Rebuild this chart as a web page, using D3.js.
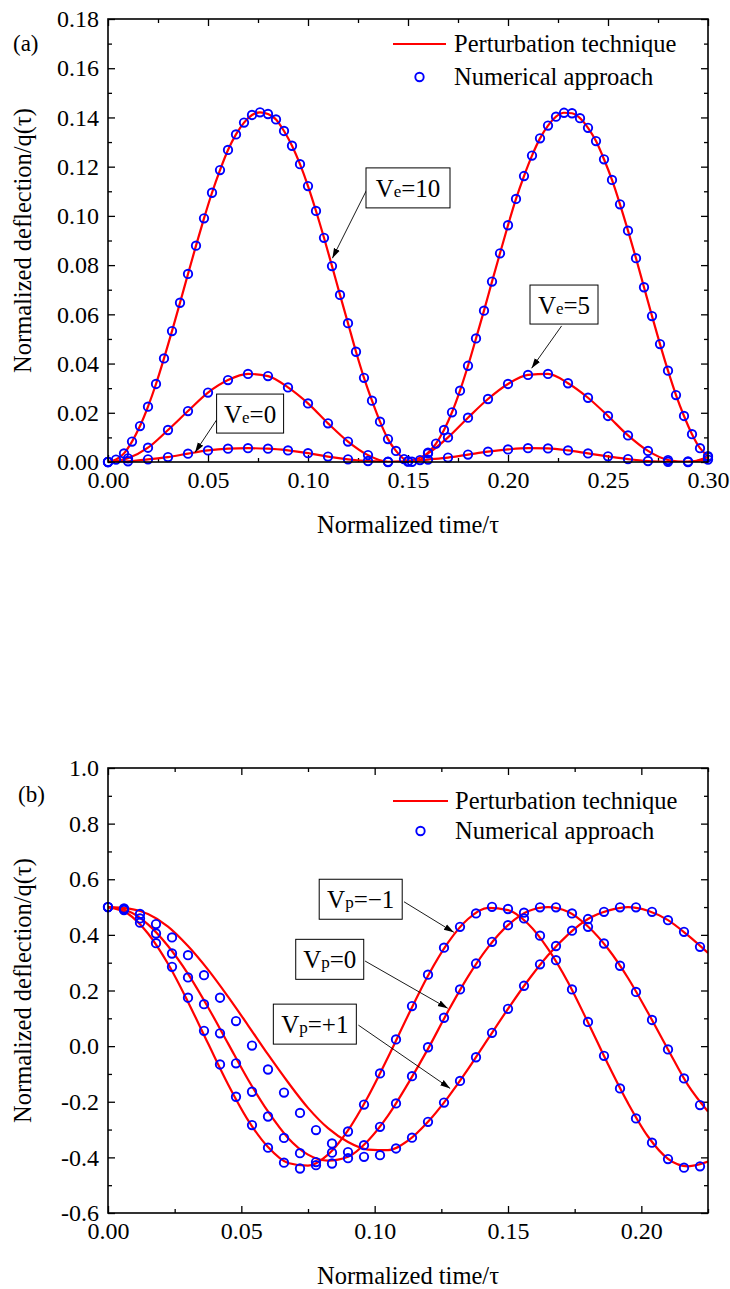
<!DOCTYPE html>
<html><head><meta charset="utf-8">
<script src="https://cdn.jsdelivr.net/npm/d3@7"></script>
<style>
body{margin:0;background:#fff;}
svg text{font-family:"Liberation Serif","Times New Roman",serif !important;fill:#000;}
</style>
</head><body>
<svg id="c" width="730" height="1289"></svg>
<script>
// ---------------- DATA : panel (a) ----------------
const timeA10 = [0,0.004,0.008,0.012,0.016,0.020,0.024,0.028,0.032,0.036,0.040,0.044,0.048,0.052,0.056,0.060,0.064,0.068,0.072,0.076,0.080,0.084,0.088,0.092,0.096,0.100,0.104,0.108,0.112,0.116,0.120,0.124,0.128,0.132,0.136,0.140,0.144,0.148,0.152,0.156,0.160,0.164,0.168,0.172,0.176,0.180,0.184,0.188,0.192,0.196,0.200,0.204,0.208,0.212,0.216,0.220,0.224,0.228,0.232,0.236,0.240,0.244,0.248,0.252,0.256,0.260,0.264,0.268,0.272,0.276,0.280,0.284,0.288,0.292,0.296,0.300];
const ve10 = [0.0000,0.0010,0.0035,0.0083,0.0146,0.0225,0.0317,0.0421,0.0532,0.0647,0.0764,0.0879,0.0990,0.1094,0.1186,0.1268,0.1331,0.1379,0.1410,0.1421,0.1414,0.1392,0.1345,0.1285,0.1210,0.1121,0.1020,0.0911,0.0796,0.0679,0.0564,0.0448,0.0342,0.0249,0.0164,0.0093,0.0045,0.0012,0.0001,0.0008,0.0038,0.0075,0.0130,0.0202,0.0290,0.0391,0.0502,0.0615,0.0733,0.0848,0.0962,0.1069,0.1162,0.1245,0.1315,0.1367,0.1403,0.1419,0.1417,0.1397,0.1358,0.1304,0.1230,0.1146,0.1047,0.0940,0.0828,0.0710,0.0593,0.0479,0.0371,0.0272,0.0187,0.0113,0.0056,0.0024];
const timeA = [0,0.01,0.02,0.03,0.04,0.05,0.06,0.07,0.08,0.09,0.10,0.11,0.12,0.13,0.14,0.15,0.16,0.17,0.18,0.19,0.20,0.21,0.22,0.23,0.24,0.25,0.26,0.27,0.28,0.29,0.30];
const ve5 = [0,0.0015,0.0058,0.0130,0.0207,0.0282,0.0333,0.0358,0.0349,0.0303,0.0238,0.0157,0.0083,0.0028,0.0001,0.0003,0.0035,0.0100,0.0180,0.0256,0.0317,0.0354,0.0358,0.0320,0.0261,0.0187,0.0108,0.0045,0.0008,0.0000,0.0020];
const ve0 = [0,0.0003,0.0011,0.0020,0.0034,0.0047,0.0054,0.0056,0.0054,0.0047,0.0036,0.0022,0.0011,0.0004,0.0000,0.0002,0.0010,0.0018,0.0030,0.0042,0.0051,0.0056,0.0055,0.0047,0.0035,0.0023,0.0012,0.0004,0.0001,0.0002,0.0010];
const xTicksA = [0,0.05,0.10,0.15,0.20,0.25,0.30];
const xMinorA = [0.025,0.075,0.125,0.175,0.225,0.275];
const yTicksA = [0,0.02,0.04,0.06,0.08,0.10,0.12,0.14,0.16,0.18];
const yMinorA = [0.01,0.03,0.05,0.07,0.09,0.11,0.13,0.15,0.17];

// ---------------- DATA : panel (b) ----------------
const lineTimeB = [0,0.0075,0.015,0.0225,0.030,0.0375,0.045,0.0525,0.060,0.0675,0.075,0.0825,0.090,0.0975,0.105,0.1125,0.120,0.1275,0.135,0.1425,0.150,0.1575,0.165,0.1725,0.180,0.1875,0.195,0.2025,0.210,0.2175,0.225];
const lineVpM1 = [0.5,0.476,0.405,0.296,0.159,0.010,-0.137,-0.266,-0.363,-0.420,-0.430,-0.390,-0.303,-0.182,-0.040,0.110,0.253,0.372,0.457,0.497,0.489,0.440,0.350,0.230,0.085,-0.065,-0.205,-0.325,-0.405,-0.432,-0.415];
const lineVp0 = [0.5,0.486,0.438,0.36,0.26,0.14,0.01,-0.12,-0.235,-0.33,-0.39,-0.412,-0.398,-0.34,-0.25,-0.135,-0.01,0.125,0.25,0.355,0.435,0.485,0.5,0.483,0.43,0.35,0.245,0.12,-0.012,-0.14,-0.235];
const lineVpP1 = [0.5,0.495,0.475,0.43,0.36,0.275,0.178,0.075,-0.03,-0.13,-0.222,-0.295,-0.345,-0.372,-0.374,-0.34,-0.272,-0.184,-0.083,0.026,0.134,0.236,0.327,0.401,0.457,0.487,0.5,0.487,0.453,0.398,0.335];
const pointTimeB = [0,0.006,0.012,0.018,0.024,0.030,0.036,0.042,0.048,0.054,0.060,0.066,0.072,0.078,0.084,0.090,0.096,0.102,0.108,0.114,0.120,0.126,0.132,0.138,0.144,0.150,0.156,0.162,0.168,0.174,0.180,0.186,0.192,0.198,0.204,0.210,0.216,0.222];
const numVpM1 = [0.5,0.489,0.444,0.37,0.285,0.174,0.055,-0.066,-0.182,-0.284,-0.365,-0.419,-0.440,-0.428,-0.383,-0.307,-0.210,-0.098,0.024,0.144,0.257,0.354,0.429,0.477,0.501,0.493,0.459,0.397,0.309,0.204,0.087,-0.035,-0.152,-0.260,-0.347,-0.406,-0.437,-0.432];
const numVp0 = [0.5,0.492,0.459,0.405,0.333,0.247,0.151,0.046,-0.062,-0.164,-0.253,-0.330,-0.385,-0.417,-0.422,-0.403,-0.356,-0.290,-0.206,-0.108,-0.004,0.102,0.204,0.297,0.375,0.435,0.480,0.499,0.499,0.477,0.429,0.369,0.289,0.195,0.094,-0.012,-0.116,-0.212];
const numVpP1 = [0.5,0.495,0.475,0.439,0.391,0.327,0.255,0.174,0.090,0.002,-0.084,-0.167,-0.240,-0.302,-0.350,-0.381,-0.398,-0.392,-0.368,-0.329,-0.272,-0.203,-0.125,-0.040,0.048,0.134,0.217,0.294,0.360,0.415,0.457,0.483,0.499,0.499,0.483,0.453,0.411,0.357];
const xTicksB = [0,0.05,0.10,0.15,0.20];
const xMinorB = [0.025,0.075,0.125,0.175,0.225];
const yTicksB = [-0.6,-0.4,-0.2,0.0,0.2,0.4,0.6,0.8,1.0];
const yMinorB = [-0.5,-0.3,-0.1,0.1,0.3,0.5,0.7,0.9];

// annotations (data units)
const annotA = [
  {main:"V", sub:"e", rest:"=10", bx:0.129, by:0.1195, bw:84, bh:40, sx:0.1293, sy:0.1105, tx:0.1122, ty:0.0828},
  {main:"V", sub:"e", rest:"=5", bx:0.211, by:0.0719, bw:68, bh:39, sx:0.2268, sy:0.0553, tx:0.2118, ty:0.0381},
  {main:"V", sub:"e", rest:"=0", bx:0.0543, by:0.0276, bw:67, bh:39, sx:0.0543, sy:0.0171, tx:0.0435, ty:0.0039}
];
const annotB = [
  {main:"V", sub:"p", rest:"=\u22121", bx:0.0792, by:0.600, bw:83, bh:40, sx:0.111, sy:0.519, tx:0.1297, ty:0.409},
  {main:"V", sub:"p", rest:"=0", bx:0.0704, by:0.384, bw:68, bh:40, sx:0.0964, sy:0.306, tx:0.1274, ty:0.136},
  {main:"V", sub:"p", rest:"=+1", bx:0.062, by:0.151, bw:83, bh:40, sx:0.0939, sy:0.0755, tx:0.1283, ty:-0.152}
];

const FONT = "Liberation Serif, Times New Roman, serif";
const svg = d3.select("#c");
const defs = svg.append("defs");
defs.append("marker").attr("id","arr").attr("markerUnits","userSpaceOnUse")
  .attr("markerWidth",11).attr("markerHeight",8).attr("refX",10).attr("refY",4).attr("orient","auto")
  .append("path").attr("d","M0,0.8 L10,4 L0,7.2 Z").attr("fill","#000");

function drawPanel(p){
  const x = d3.scaleLinear().domain(p.xDomain).range([p.left,p.right]);
  const y = d3.scaleLinear().domain(p.yDomain).range([p.bottom,p.top]);
  const g = svg.append("g").attr("font-family",FONT);
  defs.append("clipPath").attr("id","clip"+p.id).append("rect")
    .attr("x",p.left).attr("y",p.top).attr("width",p.right-p.left).attr("height",p.bottom-p.top);

  const style = sel => { sel.attr("font-family",FONT).attr("font-size",24); sel.select(".domain").remove();
    sel.selectAll(".tick line").attr("stroke","#000").attr("stroke-width",1.3);
    sel.selectAll(".tick text").attr("fill","#000"); };
  const none = () => "";
  g.append("g").attr("transform",`translate(${p.left},0)`).call(d3.axisLeft(y).tickValues(p.yTicks).tickSize(-7).tickPadding(9).tickFormat(p.yFmt)).call(style);
  g.append("g").attr("transform",`translate(${p.left},0)`).call(d3.axisLeft(y).tickValues(p.yMinor).tickSize(-4).tickFormat(none)).call(style);
  g.append("g").attr("transform",`translate(${p.right},0)`).call(d3.axisRight(y).tickValues(p.yTicks).tickSize(-7).tickFormat(none)).call(style);
  g.append("g").attr("transform",`translate(${p.right},0)`).call(d3.axisRight(y).tickValues(p.yMinor).tickSize(-4).tickFormat(none)).call(style);
  g.append("g").attr("transform",`translate(0,${p.bottom})`).call(d3.axisBottom(x).tickValues(p.xTicks).tickSize(-7).tickPadding(9).tickFormat(d=>d.toFixed(2))).call(style);
  g.append("g").attr("transform",`translate(0,${p.bottom})`).call(d3.axisBottom(x).tickValues(p.xMinor).tickSize(-4).tickFormat(none)).call(style);
  g.append("g").attr("transform",`translate(0,${p.top})`).call(d3.axisTop(x).tickValues(p.xTicks).tickSize(-7).tickFormat(none)).call(style);
  g.append("g").attr("transform",`translate(0,${p.top})`).call(d3.axisTop(x).tickValues(p.xMinor).tickSize(-4).tickFormat(none)).call(style);

  const line = d3.line().x(d=>x(d[0])).y(d=>y(d[1])).curve(d3.curveMonotoneX);
  const lg = g.append("g").attr("clip-path",`url(#clip${p.id})`);
  p.lines.forEach(l=>{
    lg.append("path").datum(l.t.map((t,i)=>[t,l.v[i]])).attr("d",line)
      .attr("fill","none").attr("stroke","#ff0000").attr("stroke-width",2.2);
  });
  p.points.forEach(s=>{
    g.append("g").selectAll("circle").data(s.t.map((t,i)=>[t,s.v[i]])).join("circle")
      .attr("cx",d=>x(d[0])).attr("cy",d=>y(d[1])).attr("r",4.2)
      .attr("fill","none").attr("stroke","#0000ff").attr("stroke-width",1.9);
  });
  g.append("rect").attr("x",p.left).attr("y",p.top).attr("width",p.right-p.left).attr("height",p.bottom-p.top)
    .attr("fill","none").attr("stroke","#000").attr("stroke-width",1.6);

  p.annot.forEach(a=>{
    g.append("line").attr("x1",x(a.sx)).attr("y1",y(a.sy)).attr("x2",x(a.tx)).attr("y2",y(a.ty))
      .attr("stroke","#000").attr("stroke-width",0.9).attr("marker-end","url(#arr)");
    const bx = x(a.bx), by = y(a.by);
    g.append("rect").attr("x",bx).attr("y",by).attr("width",a.bw).attr("height",a.bh)
      .attr("fill","#fff").attr("stroke","#000").attr("stroke-width",1);
    const t = g.append("text").attr("x",bx+a.bw/2).attr("y",by+29).attr("text-anchor","middle").attr("font-size",25);
    t.append("tspan").text(a.main);
    t.append("tspan").attr("font-size",17).text(a.sub);
    t.append("tspan").text(a.rest);
  });

  const L = p.legend;
  g.append("line").attr("x1",L.x1).attr("x2",L.x2).attr("y1",L.y1).attr("y2",L.y1).attr("stroke","#ff0000").attr("stroke-width",2.2);
  g.append("text").attr("x",L.tx).attr("y",L.y1+8).attr("font-size",24.5).text("Perturbation technique");
  g.append("circle").attr("cx",(L.x1+L.x2)/2).attr("cy",L.y2).attr("r",4.2).attr("fill","none").attr("stroke","#0000ff").attr("stroke-width",1.9);
  g.append("text").attr("x",L.tx).attr("y",L.y2+8).attr("font-size",24.5).text("Numerical approach");

  g.append("text").attr("x",(p.left+p.right)/2).attr("y",p.bottom+71).attr("text-anchor","middle").attr("font-size",24.5).text("Normalized time/\u03C4");
  g.append("text").attr("transform",`translate(31,${(p.top+p.bottom)/2}) rotate(-90)`).attr("text-anchor","middle").attr("font-size",24.5).text("Normalized deflection/q(\u03C4)");
  g.append("text").attr("x",p.lab.x).attr("y",p.lab.y).attr("font-size",23).text(p.lab.t);
}

drawPanel({id:"a", left:108,right:708,top:19,bottom:462, xDomain:[0,0.30], yDomain:[0,0.18],
  xTicks:xTicksA, xMinor:xMinorA, yTicks:yTicksA, yMinor:yMinorA, yFmt:d=>d.toFixed(2),
  lines:[{t:timeA10,v:ve10},{t:timeA,v:ve5},{t:timeA,v:ve0}],
  points:[{t:timeA10,v:ve10},{t:timeA,v:ve5},{t:timeA,v:ve0}],
  annot:annotA, legend:{x1:393,x2:446,y1:44,y2:77,tx:454}, lab:{x:13,y:51,t:"(a)"}});

drawPanel({id:"b", left:108,right:708,top:768,bottom:1213, xDomain:[0,0.225], yDomain:[-0.6,1.0],
  xTicks:xTicksB, xMinor:xMinorB, yTicks:yTicksB, yMinor:yMinorB, yFmt:d=>d.toFixed(1),
  lines:[{t:lineTimeB,v:lineVpM1},{t:lineTimeB,v:lineVp0},{t:lineTimeB,v:lineVpP1}],
  points:[{t:pointTimeB,v:numVpM1},{t:pointTimeB,v:numVp0},{t:pointTimeB,v:numVpP1}],
  annot:annotB, legend:{x1:393,x2:448,y1:801,y2:831,tx:455}, lab:{x:18,y:802,t:"(b)"}});
</script>
</body></html>
